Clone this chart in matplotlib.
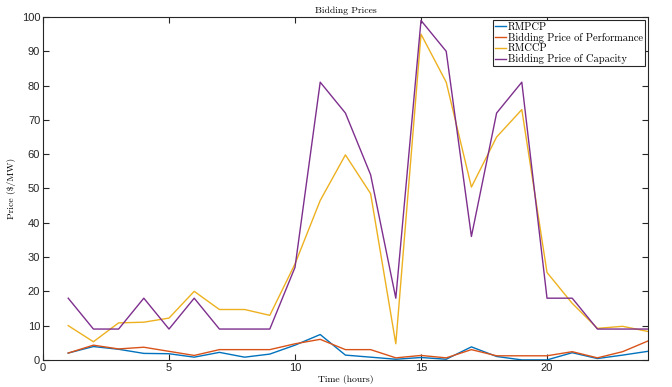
import numpy as np
import matplotlib
matplotlib.use("Agg")
import matplotlib.pyplot as plt

hours = list(range(1, 25))

rmpcp = [2.0, 3.9, 3.1, 1.9, 1.8, 0.8, 2.2, 0.8, 1.7, 4.3, 7.4, 1.4,
         0.8, 0.2, 0.7, 0.2, 3.8, 1.0, 0.0, 0.0, 2.1, 0.4, 1.4, 2.5]
bid_perf = [2.0, 4.3, 3.2, 3.7, 2.5, 1.3, 3.0, 3.0, 3.0, 4.7, 6.0, 3.0,
            3.0, 0.6, 1.3, 0.6, 3.0, 1.2, 1.2, 1.2, 2.4, 0.6, 2.4, 5.5]
rmccp = [10.0, 5.3, 10.8, 11.0, 12.2, 20.0, 14.7, 14.7, 13.0, 28.0, 46.5, 59.8,
         48.5, 4.7, 95.0, 81.0, 50.4, 65.0, 73.0, 25.5, 16.5, 9.2, 9.8, 8.3]
bid_cap = [18, 9, 9, 18, 9, 18, 9, 9, 9, 27, 81, 72,
           54, 18, 99, 90, 36, 72, 81, 18, 18, 9, 9, 9]

series = [
    ("RMPCP", rmpcp, "#0072BD"),
    ("Bidding Price of Performance", bid_perf, "#D95319"),
    ("RMCCP", rmccp, "#EDB120"),
    ("Bidding Price of Capacity", bid_cap, "#7E2F8E"),
]

serif = "cmr10"
axis_color = "#262626"

fig = plt.figure(figsize=(6.72, 3.87), dpi=100)
ax = fig.add_axes([0.064, 0.070, 0.900, 0.886])

for name, vals, color in series:
    ax.plot(hours, vals, color=color, lw=1.0, label=name)

ax.set_xlim(0, 24)
ax.set_ylim(0, 100)
ax.set_xticks([0, 5, 10, 15, 20])
ax.set_yticks(np.arange(0, 101, 10))

ax.tick_params(direction="in", top=True, right=True, length=4, width=0.8,
               colors=axis_color, labelsize=8, pad=2)
for lab in ax.get_xticklabels() + ax.get_yticklabels():
    lab.set_family("Liberation Sans")
for sp in ax.spines.values():
    sp.set_color(axis_color)
    sp.set_linewidth(0.8)

ax.set_title("Bidding Prices", family=serif, fontsize=7, pad=3)
ax.set_xlabel("Time (hours)", family=serif, fontsize=7, labelpad=2)
ax.set_ylabel(r"Price (\$/MW)", family=serif, fontsize=7, labelpad=4)

leg = ax.legend(loc="upper right", prop={"family": serif, "size": 7.5},
                handlelength=1.0, handletextpad=0.2, borderpad=0.2,
                labelspacing=0.1, borderaxespad=0.3, fancybox=False,
                framealpha=1.0, edgecolor=axis_color)
leg.get_frame().set_linewidth(0.8)

fig.savefig("out.png", dpi=100)
